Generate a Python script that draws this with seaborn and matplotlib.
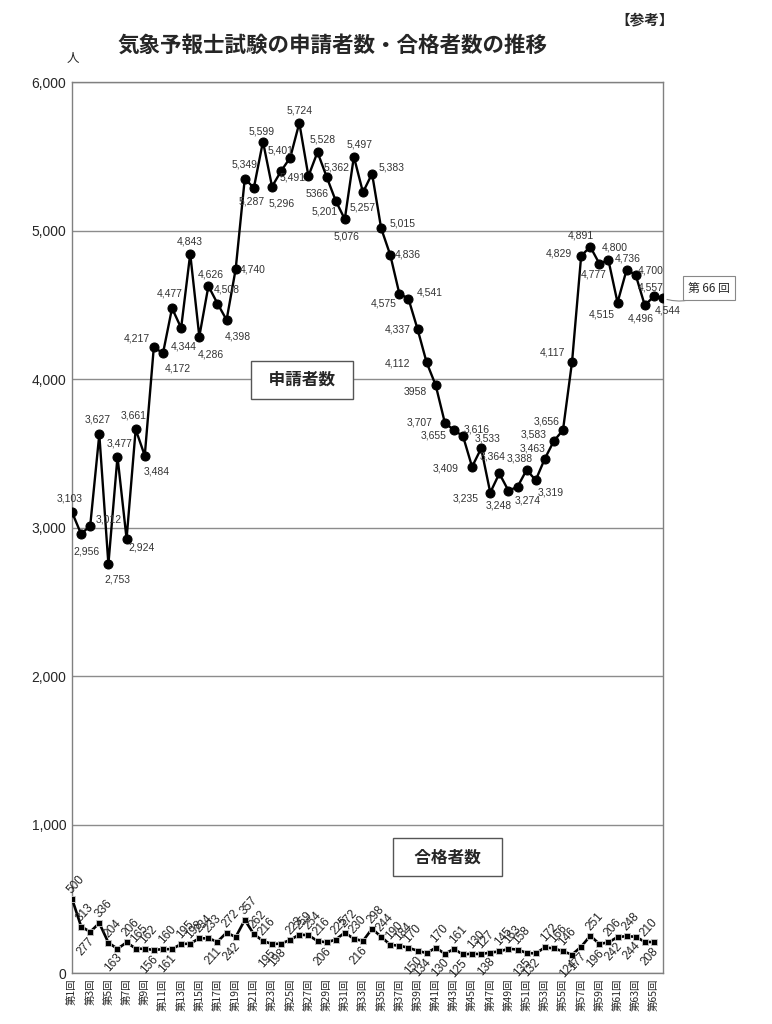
import matplotlib
matplotlib.use("Agg")
import matplotlib.pyplot as plt
import numpy as np
import pandas as pd
import seaborn as sns

# 第1回〜第66回
rounds = list(range(1, 67))

applicants = [
    3103, 2956, 3012, 3627, 2753, 3477, 2924, 3661, 3484, 4217,
    4172, 4477, 4344, 4843, 4286, 4626, 4508, 4398, 4740, 5349,
    5287, 5599, 5296, 5401, 5491, 5724, 5366, 5528, 5362, 5201,
    5076, 5497, 5257, 5383, 5015, 4836, 4575, 4541, 4337, 4112,
    3958, 3707, 3655, 3616, 3409, 3533, 3235, 3364, 3248, 3274,
    3388, 3319, 3463, 3583, 3656, 4117, 4829, 4891, 4777, 4800,
    4515, 4736, 4700, 4496, 4557, 4544,
]

# 第66回の合格者数はまだない
passers = [
    500, 313, 277, 336, 204, 163, 206, 165, 162, 156,
    160, 161, 195, 198, 234, 233, 211, 272, 242, 357,
    262, 216, 195, 198, 223, 259, 254, 216, 206, 225,
    272, 230, 216, 298, 244, 190, 184, 170, 150, 134,
    170, 130, 161, 125, 130, 127, 138, 145, 163, 158,
    135, 132, 172, 166, 146, 124, 177, 251, 196, 206,
    242, 248, 244, 210, 208,
]

y_ticks = [0, 1000, 2000, 3000, 4000, 5000, 6000]
x_tick_rounds = list(range(1, 66, 2))
grid_rounds = [11, 21, 31, 41, 51, 61]
no_comma_rounds = [27, 41]

# label offsets (pixels, x right / y up) for the applicant numbers
app_offsets = [
    (-2, 14), (5, -17), (19, 6), (-2, 15), (9, -15), (2, 13), (15, -9), (-2, 14), (12, -16), (-17, 8),
    (15, -15), (-2, 15), (3, -19), (0, 12), (11, -18), (2, 12), (9, 14), (11, -17), (17, 0), (0, 14),
    (-2, -14), (-1, 10), (10, -17), (-1, 20), (2, -20), (0, 13), (9, -18), (5, 13), (10, 9), (-11, -11),
    (2, -17), (6, 12), (0, -15), (20, 6), (21, 5), (18, 0), (-16, -10), (21, 6), (-20, -1), (-29, -1),
    (-20, -7), (-25, 0), (-20, -5), (14, 7), (-26, -2), (6, 10), (-25, -6), (-7, 17), (-10, -15), (10, -14),
    (-7, 11), (15, -12), (-12, 10), (-20, 6), (-16, 9), (-20, 9), (-22, 2), (-9, 11), (-6, -11), (6, 13),
    (-16, -12), (1, 11), (15, 5), (-4, -13), (-3, 9), (5, -12),
]
# a = above, b = below for the passer numbers
pass_sides = "aabaabaaababaaaababa" "aabbaaaabaaabaaaaabb" "ababaabaaabbaaabbaba" "babab"

sns.set_style("white")
plt.rcParams["font.family"] = ["Liberation Sans", "Noto Sans CJK JP", "DejaVu Sans"]

fig, ax = plt.subplots(figsize=(7.72, 10.24), dpi=100)
fig.subplots_adjust(left=0.0933, right=0.8588, bottom=0.0498, top=0.9199)

df_app = pd.DataFrame({"round": rounds, "count": applicants})
df_pass = pd.DataFrame({"round": rounds[:len(passers)], "count": passers})

sns.lineplot(data=df_app, x="round", y="count", ax=ax, color="black", linewidth=1.7,
             marker="o", markersize=6.5, markeredgecolor="black", zorder=4)
sns.lineplot(data=df_pass, x="round", y="count", ax=ax, color="black", linewidth=1.9,
             marker="s", markersize=4.3, markeredgecolor="#c8c8c8", markeredgewidth=0.6, zorder=4)

ax.set_xlim(1, 66)
ax.set_ylim(0, 6000)
ax.set_yticks(y_ticks)
ax.set_yticklabels([f"{v:,}" for v in y_ticks], fontsize=10)
ax.set_xticks(x_tick_rounds)
ax.set_xticklabels([f"第{r}回" for r in x_tick_rounds], rotation=90, fontsize=7.5,
                   family=["Noto Sans CJK JP", "DejaVu Sans"])
ax.set_xticks(grid_rounds, minor=True)
ax.tick_params(axis="both", which="both", length=0, pad=4)
ax.grid(axis="y", which="major", color="#8c8c8c", linewidth=1.0)
ax.grid(axis="x", which="minor", color="#b0b0b0", linewidth=1.0)
ax.set_xlabel("")
ax.set_ylabel("")
for spine in ax.spines.values():
    spine.set_color("#808080")
    spine.set_linewidth(1.0)

# applicant number labels
for r, v, (dx, dy) in zip(rounds, applicants, app_offsets):
    txt = str(v) if r in no_comma_rounds else f"{v:,}"
    ax.annotate(txt, (r, v), xytext=(dx, dy), textcoords="offset pixels",
                ha="center", va="center", fontsize=7.5, color="#333333", zorder=5)

# passer number labels, rotated
for r, v, side in zip(rounds, passers, pass_sides):
    if side == "a":
        ax.annotate(str(v), (r, v), xytext=(2, 3), textcoords="offset pixels",
                    ha="left", va="bottom", rotation=48, rotation_mode="anchor",
                    fontsize=8.5, color="#222222", zorder=5)
    else:
        ax.annotate(str(v), (r, v), xytext=(-2, -3), textcoords="offset pixels",
                    ha="right", va="top", rotation=48, rotation_mode="anchor",
                    fontsize=8.5, color="#222222", zorder=5)

# series name boxes
box = dict(boxstyle="square,pad=0.6", fc="white", ec="#555555", lw=1.0)
ax.text(0.389, 0.666, "  申請者数  ", transform=ax.transAxes, ha="center", va="center",
        fontsize=12, fontweight="bold", family=["Noto Sans CJK JP"], bbox=box, zorder=6)
ax.text(0.636, 0.130, "   合格者数   ", transform=ax.transAxes, ha="center", va="center",
        fontsize=12, fontweight="bold", family=["Noto Sans CJK JP"], bbox=box, zorder=6)

# callout for the latest round
ax.annotate("第 66 回", (rounds[-1], applicants[-1]), xytext=(46, 10), textcoords="offset pixels",
            ha="center", va="center", fontsize=8.5, family=["Noto Sans CJK JP", "DejaVu Sans"],
            bbox=dict(boxstyle="square,pad=0.45", fc="white", ec="#888888", lw=0.8),
            arrowprops=dict(arrowstyle="-", color="#888888", lw=0.8,
                            connectionstyle="arc3,rad=-0.3", shrinkA=0, shrinkB=3),
            annotation_clip=False, zorder=6)

fig.text(0.431, 0.956, "気象予報士試験の申請者数・合格者数の推移", ha="center", va="center",
         fontsize=15.5, fontweight="bold", family=["Noto Sans CJK JP"])
fig.text(0.835, 0.981, "【参考】", ha="center", va="center", fontsize=10.5,
         fontweight="bold", family=["Noto Sans CJK JP"])
fig.text(0.094, 0.943, "人", ha="center", va="center", fontsize=9,
         family=["Noto Sans CJK JP"])

fig.savefig("out.png", dpi=100)
